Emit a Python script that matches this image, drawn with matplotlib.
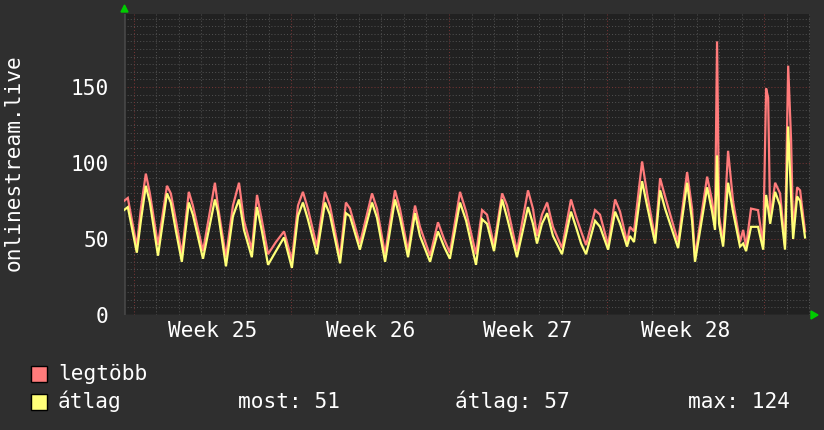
import matplotlib
matplotlib.use("Agg")
import matplotlib.pyplot as plt
from matplotlib.patches import Rectangle, Polygon

# time in days from the start of week 25
t = [-0.44, -0.27, 0.13, 0.31, 0.53, 0.71, 1.07, 1.47, 1.64, 1.87, 2.13, 2.44, 2.62, 3.07,
     3.60, 3.73, 4.09, 4.40, 4.67, 4.89, 5.24, 5.47, 5.69, 5.96, 6.31, 6.67, 7.02, 7.29,
     7.51, 7.73, 8.13, 8.49, 8.71, 9.16, 9.42, 9.60, 10.04, 10.58, 10.80, 11.16, 11.60,
     11.82, 12.18, 12.49, 12.71, 13.16, 13.51, 13.78, 14.04, 14.49, 14.76, 15.20, 15.47,
     15.69, 16.00, 16.36, 16.58, 17.02, 17.51, 17.73, 17.91, 18.13, 18.36, 18.62, 19.02,
     19.42, 19.64, 19.87, 20.09, 20.49, 20.71, 21.07, 21.38, 21.60, 21.91, 22.04, 22.22,
     22.58, 22.80, 23.16, 23.38, 23.60, 24.18, 24.58, 24.80, 24.93, 25.47, 25.69, 25.82,
     25.91, 26.00, 26.18, 26.40, 26.62, 26.93, 27.07, 27.20, 27.42, 27.73, 27.96, 28.09,
     28.18, 28.27, 28.49, 28.71, 28.93, 29.07, 29.20, 29.29, 29.47, 29.60, 29.82]

legtobb = [75, 77, 45, 70, 93, 80, 46, 85, 80, 62, 40, 81, 72, 42,
           87, 72, 38, 72, 87, 62, 43, 79, 62, 40, 48, 55, 36, 72,
           81, 70, 45, 81, 72, 38, 74, 70, 47, 80, 70, 40, 82,
           70, 42, 72, 58, 39, 61, 50, 41, 81, 68, 40, 69,
           66, 46, 80, 72, 42, 82, 70, 52, 66, 74, 58, 44,
           76, 65, 55, 46, 69, 66, 46, 76, 68, 48, 58, 55,
           101, 80, 50, 90, 78, 48, 94, 70, 38, 91, 75, 60,
           180, 65, 48, 108, 75, 48, 56, 45, 70, 69, 46, 149,
           143, 63, 87, 80, 46, 164, 115, 55, 84, 82, 55]

atlag = [69, 71, 41, 62, 85, 74, 39, 80, 74, 55, 35, 74, 66, 37,
         76, 68, 32, 65, 76, 56, 38, 71, 55, 33, 42, 51, 31, 65,
         74, 63, 40, 74, 66, 34, 67, 65, 43, 74, 64, 35, 76,
         64, 38, 67, 52, 35, 55, 45, 37, 74, 62, 33, 63,
         60, 42, 76, 64, 38, 71, 60, 47, 60, 67, 52, 40,
         68, 58, 47, 40, 62, 58, 43, 68, 60, 45, 52, 48,
         88, 72, 47, 82, 70, 44, 87, 62, 35, 84, 68, 56,
         105, 60, 45, 87, 68, 45, 47, 42, 58, 58, 43, 79,
         70, 60, 81, 72, 43, 124, 78, 50, 78, 75, 51]

y_ticks = [0, 50, 100, 150]
week_labels = ["Week 25", "Week 26", "Week 27", "Week 28"]
week_starts = [0, 7, 14, 21, 28]
legend_names = ["legtöbb", "átlag"]
stats = ["most: 51", "átlag: 57", "max: 124"]

BG = "#2f2f2f"
CANVAS = "#212121"
RED = "#ff7b7b"
YEL = "#ffff78"
FONT = "DejaVu Sans Mono"
FS = 15.2

fig = plt.figure(figsize=(8.24, 4.30), dpi=100, facecolor=BG)
W, H = 824, 430
ax = fig.add_axes([124 / W, (H - 315) / H, 686 / W, 301 / H])
ax.set_facecolor(CANVAS)
xmin, xmax = -0.44, 30.04
ymin, ymax = 0, 198
ax.set_xlim(xmin, xmax)
ax.set_ylim(ymin, ymax)
for s in ax.spines.values():
    s.set_visible(False)

dot = (0, (1, 2))
# horizontal grid
for v in range(5, 200, 5):
    if v % 50 == 0:
        ax.axhline(v, color="#733434", lw=0.75, ls=dot, zorder=1)
    else:
        ax.axhline(v, color="#4e4e4e", lw=0.75, ls=dot, zorder=1)
# vertical grid
for d in range(0, 31):
    if d in week_starts:
        ax.axvline(d, color="#733434", lw=0.75, ls=dot, zorder=1)
    else:
        ax.axvline(d, color="#4e4e4e", lw=0.75, ls=dot, zorder=1)

ax.plot(t, legtobb, color=RED, lw=1.6, zorder=3, solid_joinstyle="miter")
ax.plot(t, atlag, color=YEL, lw=1.6, zorder=4, solid_joinstyle="miter")

# axes lines
ax.axhline(0, color="#444444", lw=1, zorder=2)
ax.axvline(xmin, color="#444444", lw=2, zorder=2)

ax.set_yticks(y_ticks)
ax.set_yticklabels([str(v) for v in y_ticks], family=FONT, fontsize=FS, color="white")
ax.tick_params(axis="y", length=0, pad=11)
ax.set_xticks([ws + 3.5 for ws in week_starts[:4]])
ax.set_xticklabels(week_labels, family=FONT, fontsize=FS, color="white")
ax.tick_params(axis="x", length=0, pad=4)

# green arrows (pixel coordinates, origin top-left)
arrows = [[[121, 12], [128, 12], [124.5, 5]],
          [[811, 311], [811, 319], [818, 315]]]
for pts in arrows:
    fig.patches.append(Polygon([[x, H - y] for x, y in pts], closed=True,
                               transform=None, color="#00cc00"))

fig.text(14 / W, 1 - 163 / H, "onlinestream.live", rotation=90, family=FONT,
         fontsize=FS, color="white", ha="center", va="center")

# legend
for i, (name, col) in enumerate(zip(legend_names, [RED, YEL])):
    yc = 373.5 + i * 28
    fig.patches.append(Rectangle((31 / W, 1 - (yc + 8) / H), 16 / W, 16 / H,
                                 transform=fig.transFigure, facecolor=col,
                                 edgecolor="black", lw=1.0))
    fig.text(58 / W, 1 - yc / H, name, family=FONT, fontsize=FS, color="white",
             va="center", ha="left")
for x0, s in zip([238, 455, 688], stats):
    fig.text(x0 / W, 1 - 401.5 / H, s, family=FONT, fontsize=FS, color="white",
             va="center", ha="left")

fig.savefig("out.png", dpi=100, facecolor=BG)
